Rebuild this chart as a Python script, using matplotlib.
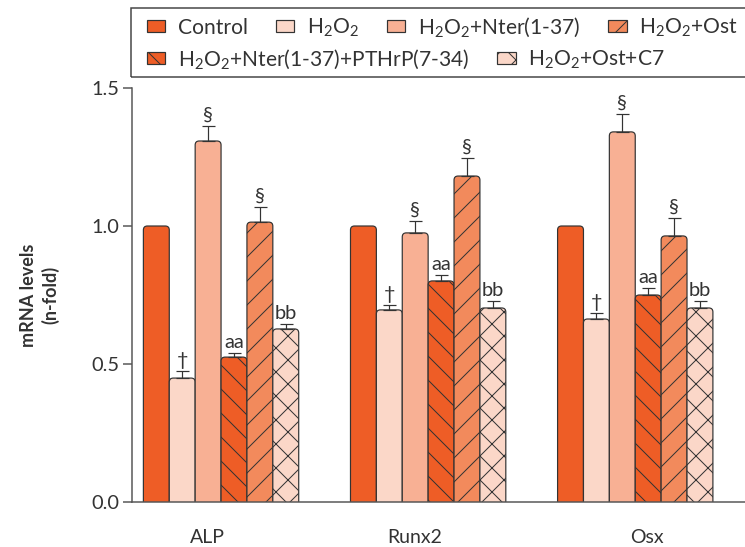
import matplotlib
matplotlib.use("Agg")
import matplotlib.pyplot as plt
import numpy as np
from matplotlib.patches import FancyBboxPatch, Patch, Rectangle

plt.rcParams['font.family'] = ['Lato', 'DejaVu Sans']
plt.rcParams['mathtext.fontset'] = 'custom'
plt.rcParams['mathtext.rm'] = 'Lato'
plt.rcParams['mathtext.it'] = 'Lato'
plt.rcParams['hatch.linewidth'] = 1.0

# ---- data ----
genes = ['ALP', 'Runx2', 'Osx']
series = ['Control', 'H$_2$O$_2$', 'H$_2$O$_2$+Nter(1-37)', 'H$_2$O$_2$+Ost',
          'H$_2$O$_2$+Nter(1-37)+PTHrP(7-34)', 'H$_2$O$_2$+Ost+C7']
control = [1.0, 1.0, 1.0]
h2o2 = [0.449, 0.696, 0.663]
nter = [1.308, 0.975, 1.341]
ost = [1.014, 1.181, 0.964]
nter_pthrp = [0.525, 0.801, 0.750]
ost_c7 = [0.627, 0.703, 0.703]

control_err = [0.0, 0.0, 0.0]
h2o2_err = [0.026, 0.018, 0.022]
nter_err = [0.054, 0.043, 0.065]
ost_err = [0.055, 0.065, 0.065]
nter_pthrp_err = [0.015, 0.021, 0.025]
ost_c7_err = [0.018, 0.025, 0.025]

control_sig = ['', '', '']
h2o2_sig = ['†', '†', '†']
nter_sig = ['§', '§', '§']
ost_sig = ['§', '§', '§']
nter_pthrp_sig = ['aa', 'aa', 'aa']
ost_c7_sig = ['bb', 'bb', 'bb']

# plotting order of bars within a group
order_vals = [control, h2o2, nter, nter_pthrp, ost, ost_c7]
order_errs = [control_err, h2o2_err, nter_err, nter_pthrp_err, ost_err, ost_c7_err]
order_sigs = [control_sig, h2o2_sig, nter_sig, nter_pthrp_sig, ost_sig, ost_c7_sig]
order_idx = [0, 1, 2, 4, 3, 5]  # index into series for style

colors = {0: '#EE5D26', 1: '#FBD7C8', 2: '#F8B094', 3: '#F28A5C', 4: '#EE5D26', 5: '#FBD7C8'}
hatches = {0: None, 1: None, 2: None, 3: '/', 4: '\\', 5: 'x'}
edge = '#333333'

W, H = 745, 547
DPI = 72
fig = plt.figure(figsize=(W / DPI, H / DPI), dpi=DPI)
ax = fig.add_axes([132 / W, (H - 502) / H, (W - 132) / W, (502 - 88) / H])

x = np.arange(len(genes))
bw = 0.125
ax.set_xlim(-0.43, 2.53)
ax.set_ylim(0, 1.5)

# pixel scales for rounding
px_x = (2.53 + 0.43) / (W - 132)
px_y = 1.5 / (502 - 88)
asp = px_y / px_x
r = 4 * px_x

for k, (vals, errs, sigs, si) in enumerate(zip(order_vals, order_errs, order_sigs, order_idx)):
    pos = x + (k - 2.5) * bw
    bars = ax.bar(pos, vals, bw, color=colors[si], edgecolor=edge)
    for p in bars:
        p.set_visible(False)
        bx, by = p.get_x(), p.get_y()
        w, h = p.get_width(), p.get_height()
        fp = FancyBboxPatch((bx, by - 0.03), w, h + 0.03,
                            boxstyle=f"round,pad=0,rounding_size={r}",
                            mutation_aspect=asp, facecolor=colors[si],
                            edgecolor=edge, linewidth=1.2, hatch=hatches[si],
                            zorder=2)
        ax.add_patch(fp)
    ev = np.array(errs)
    if ev.max() > 0:
        ax.errorbar(pos, vals, yerr=[np.zeros_like(ev), ev], fmt='none',
                    ecolor=edge, elinewidth=1.2, capsize=6.5, capthick=1.2, zorder=3)
    for xi, v, e, s in zip(pos, vals, errs, sigs):
        if s:
            ax.annotate(s, (xi, v + e), xytext=(0, 2), textcoords='offset points',
                        ha='center', va='bottom', fontsize=20, color='#333333')

ax.spines['top'].set_visible(False)
ax.spines['right'].set_visible(False)
for s in ['left', 'bottom']:
    ax.spines[s].set_color('#555555')
    ax.spines[s].set_linewidth(1.5)
ax.set_yticks([0, 0.5, 1.0, 1.5])
ax.set_yticklabels(['0.0', '0.5', '1.0', '1.5'])
ax.tick_params(axis='y', length=9, width=1.5, color='#555555', labelsize=20,
               labelcolor='#333333', pad=4)
# category labels sit slightly off the group centres in the reference
label_shift_px = np.array([-13.5, -13, 12])
ax.set_xticks(x + label_shift_px * px_x)
ax.set_xticklabels(genes)
ax.tick_params(axis='x', length=0, labelsize=19.5, labelcolor='#333333', pad=27)

fig.text(40 / W, (H - 295) / H, 'mRNA levels\n(n-fold)', rotation=90,
         ha='center', va='center', fontsize=18, fontweight='bold',
         color='#333333', multialignment='center', linespacing=1.3)

# legend
handles = [Patch(facecolor=colors[i], edgecolor=edge, hatch=hatches[i], linewidth=1.2)
           for i in range(6)]
row1 = [0, 1, 2, 3]
row2 = [4, 5]
kw = dict(frameon=False, fontsize=21, handlelength=0.86, handleheight=0.52,
          handletextpad=0.6, columnspacing=1.35, borderpad=0, borderaxespad=0,
          loc='center left', labelcolor='#333333')
leg1 = fig.legend([handles[i] for i in row1], [series[i] for i in row1], ncol=4,
                  bbox_to_anchor=(147 / W, (H - 27) / H), **kw)
leg2 = fig.legend([handles[i] for i in row2], [series[i] for i in row2], ncol=2,
                  bbox_to_anchor=(147 / W, (H - 59) / H), **kw)
fig.add_artist(Rectangle((131 / W, (H - 77) / H), 1.0, 69 / H, transform=fig.transFigure,
                         facecolor='none', edgecolor='#444444', linewidth=1.5))

fig.savefig('out.png', dpi=DPI)
